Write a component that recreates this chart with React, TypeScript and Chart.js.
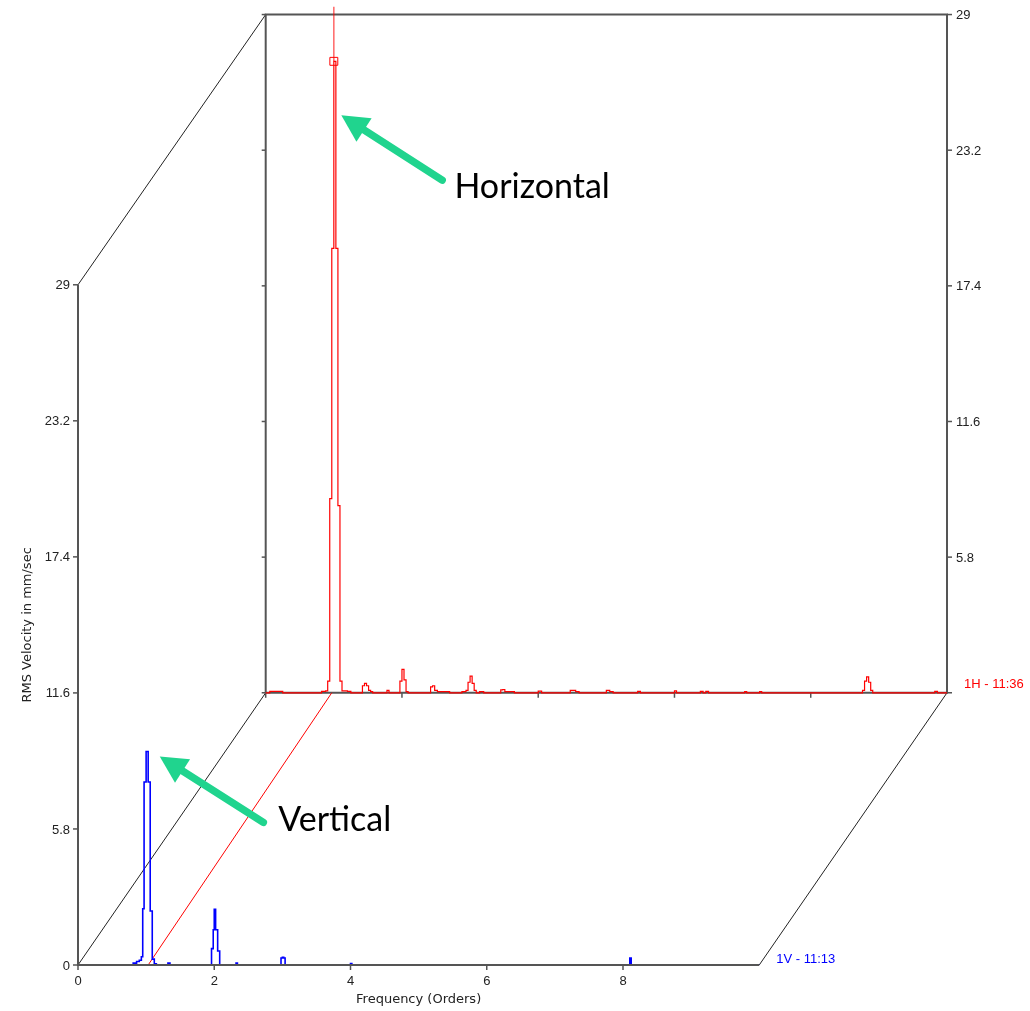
import React, { useEffect, useRef } from "react";
import { Chart, registerables } from "chart.js";

Chart.register(...registerables);

// ---------- data ----------
// Front spectrum: 1V - 11:13 (orders, mm/sec RMS)
const BLUE_FREQ = [0, 0.78, 0.81, 0.84, 0.86, 0.9, 0.93, 0.95, 0.97, 1.0, 1.03, 1.06, 1.09, 1.12, 1.15, 1.3, 1.32, 1.35, 1.94, 1.96, 1.985, 2.0, 2.02, 2.05, 2.08, 2.3, 2.32, 2.34, 2.96, 2.98, 3.0, 3.02, 3.04, 3.98, 4.0, 4.02, 8.08, 8.1, 8.12, 10];
const BLUE_AMP = [0, 0, 0.08, 0, 0.15, 0.2, 0.35, 2.4, 7.8, 9.1, 7.8, 2.3, 0.25, 0.05, 0, 0, 0.08, 0, 0, 0.7, 1.5, 2.38, 1.5, 0.6, 0, 0, 0.08, 0, 0, 0.3, 0.33, 0.3, 0, 0, 0.06, 0, 0, 0.3, 0, 0];

// Back spectrum: 1H - 11:36
const RED_FREQ = [0, 0.06, 0.15, 0.25, 0.8, 0.82, 0.88, 0.91, 0.94, 0.97, 1.0, 1.03, 1.06, 1.09, 1.12, 1.2, 1.25, 1.38, 1.42, 1.45, 1.48, 1.51, 1.54, 1.57, 1.75, 1.78, 1.81, 1.93, 1.97, 2.0, 2.03, 2.06, 2.09, 2.38, 2.42, 2.45, 2.48, 2.52, 2.6, 2.7, 2.88, 2.94, 2.97, 3.0, 3.03, 3.06, 3.09, 3.14, 3.2, 3.42, 3.45, 3.48, 3.51, 3.6, 3.65, 3.95, 4.0, 4.05, 4.42, 4.47, 4.55, 4.6, 4.97, 5.0, 5.05, 5.1, 5.42, 5.46, 5.5, 5.98, 6.0, 6.03, 6.35, 6.38, 6.42, 6.46, 6.5, 7.0, 7.03, 7.06, 7.22, 7.25, 7.28, 8.72, 8.76, 8.79, 8.82, 8.85, 8.88, 8.91, 9.78, 9.82, 9.86, 10];
const RED_AMP = [0, 0.06, 0.06, 0, 0, 0.06, 0.08, 0.5, 8.3, 19.0, 27.0, 19.0, 8.0, 0.5, 0.08, 0.06, 0, 0, 0.3, 0.4, 0.3, 0.1, 0.05, 0, 0, 0.1, 0, 0, 0.5, 1.0, 0.55, 0.05, 0, 0, 0.25, 0.3, 0.1, 0.05, 0.05, 0, 0.05, 0.1, 0.45, 0.71, 0.4, 0.1, 0, 0.05, 0, 0, 0.12, 0.14, 0.05, 0.05, 0, 0, 0.07, 0, 0, 0.1, 0.05, 0, 0, 0.1, 0.05, 0, 0, 0.06, 0, 0, 0.08, 0, 0, 0.06, 0, 0.06, 0, 0, 0.05, 0, 0, 0.05, 0, 0, 0.1, 0.5, 0.68, 0.45, 0.1, 0, 0, 0.06, 0, 0];

const AMP_TICKS = [0, 5.8, 11.6, 17.4, 23.2, 29];
const FREQ_TICKS = [0, 2, 4, 6, 8];
const PLANE_X_MAX = 10;
const PLANE_Y_MAX = 29;

const FRONT_LABEL = "1V - 11:13";
const BACK_LABEL = "1H - 11:36";
const Y_TITLE = "RMS Velocity in mm/sec";
const X_TITLE = "Frequency (Orders)";

// cursor (back plane peak marker and floor link)
const CURSOR_X = 1.0;
const CURSOR_PEAK = 27.0;
const CURSOR_FRONT_X = 1.03;
const CURSOR_BACK_X = 0.97;

// annotations: [x, y] in plane units
const ANN_H_TEXT = "Horizontal";
const ANN_H_TIP = [1.11, 24.69];
const ANN_H_TAIL = [2.59, 21.92];
const ANN_H_AT = [2.77, 21.62];
const ANN_V_TEXT = "Vertical";
const ANN_V_TIP = [1.2, 8.89];
const ANN_V_TAIL = [2.72, 6.08];
const ANN_V_AT = [2.94, 6.17];

// scale ranges (projection of the two planes onto the canvas)
const FRONT_X_RANGE = [0, 12.756];
const FRONT_Y_RANGE = [0, 40.86];
const BACK_X_RANGE = [-2.755, 10.0];
const BACK_Y_RANGE = [-11.64, 29.34];

const BLUE = "#0000ff";
const RED = "#ff0000";
const AXIS = "#555555";
const DIAG = "#222222";
const GREEN = "#20d48e";
const TICK_FONT = "13px 'Liberation Sans', Arial, sans-serif";
const TITLE_FONT = "13px 'DejaVu Sans', Verdana, sans-serif";
const ANN_FONT = "34px Lato, 'Open Sans', sans-serif";

function seg(ctx: CanvasRenderingContext2D, a: number, b: number, c: number, d: number) {
  ctx.beginPath();
  ctx.moveTo(a, b);
  ctx.lineTo(c, d);
  ctx.stroke();
}

function arrow(ctx: CanvasRenderingContext2D, tx: number, ty: number, hx: number, hy: number) {
  const ang = Math.atan2(hy - ty, hx - tx);
  const headLen = 27;
  const headHalf = 14;
  const bx = hx - Math.cos(ang) * headLen;
  const by = hy - Math.sin(ang) * headLen;
  ctx.strokeStyle = GREEN;
  ctx.fillStyle = GREEN;
  ctx.lineWidth = 7.5;
  ctx.lineCap = "round";
  seg(ctx, tx, ty, bx + Math.cos(ang) * 2, by + Math.sin(ang) * 2);
  ctx.beginPath();
  ctx.moveTo(hx, hy);
  ctx.lineTo(bx + Math.sin(ang) * headHalf, by - Math.cos(ang) * headHalf);
  ctx.lineTo(bx - Math.sin(ang) * headHalf, by + Math.cos(ang) * headHalf);
  ctx.closePath();
  ctx.fill();
  ctx.lineCap = "butt";
}

const framePlugin = {
  id: "waterfallFrame",
  beforeDatasetsDraw(chart: any) {
    const ctx: CanvasRenderingContext2D = chart.ctx;
    const { x, y, x2, y2 } = chart.scales;
    const fx0 = x.getPixelForValue(0);
    const fx1 = x.getPixelForValue(PLANE_X_MAX);
    const fy0 = y.getPixelForValue(0);
    const fyT = y.getPixelForValue(PLANE_Y_MAX);
    const bx0 = x2.getPixelForValue(0);
    const bx1 = x2.getPixelForValue(PLANE_X_MAX);
    const by0 = y2.getPixelForValue(0);
    const byT = y2.getPixelForValue(PLANE_Y_MAX);
    ctx.save();
    // depth diagonals
    ctx.strokeStyle = DIAG;
    ctx.lineWidth = 1;
    seg(ctx, fx0, fyT, bx0, byT);
    seg(ctx, fx0, fy0, bx0, by0);
    seg(ctx, fx1, fy0, bx1, by0);
    // back plane frame
    ctx.strokeStyle = AXIS;
    ctx.lineWidth = 2;
    ctx.beginPath();
    ctx.moveTo(bx0, by0);
    ctx.lineTo(bx0, byT);
    ctx.lineTo(bx1, byT);
    ctx.lineTo(bx1, by0);
    ctx.lineTo(bx0, by0);
    ctx.stroke();
    ctx.lineWidth = 1.5;
    AMP_TICKS.forEach((v) => {
      const py = y2.getPixelForValue(v);
      seg(ctx, bx0 - 4, py, bx0, py);
      seg(ctx, bx1, py, bx1 + 5, py);
    });
    FREQ_TICKS.forEach((v) => {
      const px = x2.getPixelForValue(v);
      seg(ctx, px, by0, px, by0 + 5);
    });
    // cursor link across the floor
    ctx.strokeStyle = RED;
    ctx.lineWidth = 1;
    seg(ctx, x.getPixelForValue(CURSOR_FRONT_X), fy0, x2.getPixelForValue(CURSOR_BACK_X), by0);
    ctx.restore();
  },
  afterDatasetsDraw(chart: any) {
    const ctx: CanvasRenderingContext2D = chart.ctx;
    const { x, y, x2, y2 } = chart.scales;
    const fx0 = x.getPixelForValue(0);
    const fx1 = x.getPixelForValue(PLANE_X_MAX);
    const fy0 = y.getPixelForValue(0);
    const fyT = y.getPixelForValue(PLANE_Y_MAX);
    const bx1 = x2.getPixelForValue(PLANE_X_MAX);
    const by0 = y2.getPixelForValue(0);
    ctx.save();
    // front axes
    ctx.strokeStyle = AXIS;
    ctx.lineWidth = 2;
    ctx.beginPath();
    ctx.moveTo(fx0, fyT);
    ctx.lineTo(fx0, fy0);
    ctx.lineTo(fx1, fy0);
    ctx.stroke();
    ctx.lineWidth = 1.5;
    AMP_TICKS.forEach((v) => {
      const py = y.getPixelForValue(v);
      seg(ctx, fx0 - 5, py, fx0, py);
    });
    FREQ_TICKS.forEach((v) => {
      const px = x.getPixelForValue(v);
      seg(ctx, px, fy0, px, fy0 + 5);
    });
    // tick labels
    ctx.font = TICK_FONT;
    ctx.fillStyle = "#222222";
    ctx.textBaseline = "middle";
    ctx.textAlign = "right";
    AMP_TICKS.forEach((v) => {
      ctx.fillText(String(v), fx0 - 8, y.getPixelForValue(v) + 1);
    });
    ctx.textAlign = "left";
    AMP_TICKS.forEach((v) => {
      if (v === 0) return;
      ctx.fillText(String(v), bx1 + 9, y2.getPixelForValue(v) + 1);
    });
    ctx.textAlign = "center";
    FREQ_TICKS.forEach((v) => {
      ctx.fillText(String(v), x.getPixelForValue(v), fy0 + 16);
    });
    // axis titles
    ctx.font = TITLE_FONT;
    ctx.fillText(X_TITLE, (fx0 + fx1) / 2, fy0 + 35);
    ctx.save();
    ctx.translate(fx0 - 50, (fy0 + fyT) / 2);
    ctx.rotate(-Math.PI / 2);
    ctx.fillText(Y_TITLE, 0, 0);
    ctx.restore();
    // series labels
    ctx.font = TICK_FONT;
    ctx.textAlign = "left";
    ctx.fillStyle = BLUE;
    ctx.fillText(FRONT_LABEL, fx1 + 17, fy0 - 6);
    ctx.fillStyle = RED;
    ctx.fillText(BACK_LABEL, bx1 + 17, by0 - 8);
    // annotations
    arrow(ctx, x2.getPixelForValue(ANN_H_TAIL[0]), y2.getPixelForValue(ANN_H_TAIL[1]), x2.getPixelForValue(ANN_H_TIP[0]), y2.getPixelForValue(ANN_H_TIP[1]));
    arrow(ctx, x.getPixelForValue(ANN_V_TAIL[0]), y.getPixelForValue(ANN_V_TAIL[1]), x.getPixelForValue(ANN_V_TIP[0]), y.getPixelForValue(ANN_V_TIP[1]));
    ctx.font = ANN_FONT;
    ctx.fillStyle = "#000000";
    ctx.textAlign = "left";
    ctx.textBaseline = "middle";
    ctx.fillText(ANN_H_TEXT, x2.getPixelForValue(ANN_H_AT[0]), y2.getPixelForValue(ANN_H_AT[1]));
    ctx.fillText(ANN_V_TEXT, x.getPixelForValue(ANN_V_AT[0]), y.getPixelForValue(ANN_V_AT[1]));
    ctx.restore();
  },
};

export default function App() {
  const ref = useRef<HTMLCanvasElement | null>(null);
  useEffect(() => {
    if (!ref.current) return;
    const blue = BLUE_FREQ.map((f, i) => ({ x: f, y: BLUE_AMP[i] }));
    const red = RED_FREQ.map((f, i) => ({ x: f, y: RED_AMP[i] }));
    const chart = new Chart(ref.current, {
      type: "line",
      data: {
        datasets: [
          {
            data: blue,
            xAxisID: "x",
            yAxisID: "y",
            borderColor: BLUE,
            borderWidth: 1.6,
            pointRadius: 0,
            stepped: true,
            fill: false,
          },
          {
            data: red,
            xAxisID: "x2",
            yAxisID: "y2",
            borderColor: RED,
            borderWidth: 1.2,
            pointRadius: 0,
            stepped: true,
            fill: false,
          },
          {
            data: [
              { x: CURSOR_X, y: CURSOR_PEAK },
              { x: CURSOR_X, y: BACK_Y_RANGE[1] },
            ],
            xAxisID: "x2",
            yAxisID: "y2",
            borderColor: "rgba(255,0,0,0.6)",
            borderWidth: 1.5,
            pointRadius: 0,
            fill: false,
          },
          {
            data: [{ x: CURSOR_X, y: CURSOR_PEAK }],
            xAxisID: "x2",
            yAxisID: "y2",
            showLine: false,
            pointStyle: "rect",
            pointRadius: 5.6,
            pointBorderWidth: 1,
            pointBorderColor: RED,
            pointBackgroundColor: "rgba(0,0,0,0)",
            borderColor: RED,
          },
        ],
      },
      options: {
        animation: false,
        responsive: false,
        events: [],
        layout: { padding: { left: 78, right: 83, top: 4, bottom: 46 } },
        plugins: { legend: { display: false }, tooltip: { enabled: false } },
        scales: {
          x: { type: "linear", min: FRONT_X_RANGE[0], max: FRONT_X_RANGE[1], display: false },
          y: { type: "linear", min: FRONT_Y_RANGE[0], max: FRONT_Y_RANGE[1], display: false },
          x2: { type: "linear", min: BACK_X_RANGE[0], max: BACK_X_RANGE[1], display: false },
          y2: { type: "linear", min: BACK_Y_RANGE[0], max: BACK_Y_RANGE[1], display: false },
        },
      },
      plugins: [framePlugin],
    } as any);
    return () => chart.destroy();
  }, []);
  return (
    <div style={{ position: "fixed", left: 0, top: 0, width: 1030, height: 1011, background: "#ffffff" }}>
      <canvas ref={ref} width={1030} height={1011} style={{ display: "block" }} />
    </div>
  );
}
